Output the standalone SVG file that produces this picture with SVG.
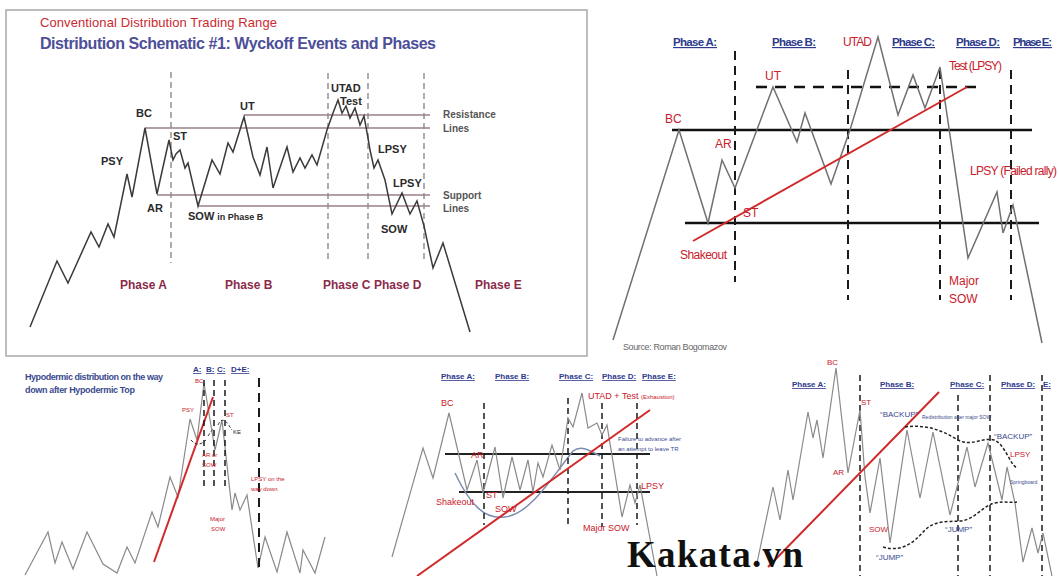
<svg xmlns="http://www.w3.org/2000/svg" width="1059" height="576" viewBox="0 0 1059 576">
<style>
text{font-family:"Liberation Sans",Arial,sans-serif}
.price1{fill:none;stroke:#3a3a3a;stroke-width:1.5;stroke-linejoin:miter}
.price{fill:none;stroke:#707070;stroke-width:1.5;stroke-linejoin:miter}
.priceL{fill:none;stroke:#8a8a8a;stroke-width:1.2;stroke-linejoin:miter}
.hl1{stroke:#9b7f88;stroke-width:1.6}
.vd1{stroke:#8a8a8a;stroke-width:1.4;stroke-dasharray:6 4}
.vd{stroke:#1a1a1a;stroke-width:2;stroke-dasharray:9 6}
.vds{stroke:#1a1a1a;stroke-width:1.5;stroke-dasharray:6 4}
.blk{stroke:#111;stroke-width:2.6}
.blkS{stroke:#222;stroke-width:2}
.trend{stroke:#d02a2a;stroke-width:2;fill:none}
.ev{font-weight:bold;font-size:11px;fill:#2a2a2a}
.ph1{font-weight:bold;font-size:12px;fill:#8b2b4a}
.side{font-weight:bold;font-size:10px;fill:#555}
.r{fill:#c8202a}
.hdr{font-weight:bold;fill:#2d3a8c;text-decoration:underline}
.bl{fill:#3a4a90}
.brand{font-family:"Liberation Serif","Times New Roman",serif;font-weight:bold;font-size:37px;fill:#111}
</style>
<rect width="1059" height="576" fill="#fff"/>

<g id="panel-conventional">
<rect x="6" y="10" width="581" height="346" fill="#fff" stroke="#a8a8a8" stroke-width="1.5"/>
<text x="40" y="27" font-size="13" fill="#cc2a30" textLength="237">Conventional Distribution Trading Range</text>
<text x="40" y="49" font-size="16" font-weight="bold" fill="#4d4f98" textLength="396">Distribution Schematic #1: Wyckoff Events and Phases</text>
<line class="hl1" x1="244" y1="115" x2="430" y2="115"/>
<line class="hl1" x1="145" y1="128" x2="430" y2="128"/>
<line class="hl1" x1="157" y1="195" x2="430" y2="195"/>
<line class="hl1" x1="198" y1="206" x2="430" y2="206"/>
<line class="vd1" x1="171" y1="72" x2="171" y2="263"/>
<line class="vd1" x1="328" y1="73" x2="328" y2="263"/>
<line class="vd1" x1="368" y1="73" x2="368" y2="263"/>
<line class="vd1" x1="424" y1="73" x2="424" y2="263"/>
<polyline class="price1" points="30,327 57,261 68,283 91,232 99,247 108,224 114,237 127,174 132,197 145,128 157,194 169,140 173,160 176,154 180,150 185,168 188,163 198,206 212,160 220,174 228,143 233,152 244,117 253,157 260,175 267,147 273,188 287,147 293,172 300,158 305,168 312,155 317,165 327,130 333,113 338,100 342,113 346,106 350,118 355,108 360,125 364,116 368,138 370,150 374,168 378,160 385,180 392,214 402,193 410,214 417,201 424,226 433,268 443,243 470,332"/>
<text class="ev" x="136" y="117">BC</text>
<text class="ev" x="101" y="165">PSY</text>
<text class="ev" x="173" y="140">ST</text>
<text class="ev" x="147" y="212">AR</text>
<text class="ev" x="188" y="220">SOW <tspan font-size="9">in Phase B</tspan></text>
<text class="ev" x="240" y="110">UT</text>
<text class="ev" x="331" y="92">UTAD</text>
<text class="ev" x="340" y="105" font-size="10">Test</text>
<text class="ev" x="378" y="153">LPSY</text>
<text class="ev" x="393" y="187">LPSY</text>
<text class="ev" x="381" y="233">SOW</text>
<text class="side" x="443" y="118">Resistance</text>
<text class="side" x="443" y="132">Lines</text>
<text class="side" x="443" y="199">Support</text>
<text class="side" x="443" y="212">Lines</text>
<text class="ph1" x="120" y="289">Phase A</text>
<text class="ph1" x="225" y="289">Phase B</text>
<text class="ph1" x="323" y="289">Phase C</text>
<text class="ph1" x="374" y="289">Phase D</text>
<text class="ph1" x="475" y="289">Phase E</text>
</g>

<g id="panel-bogomazov">
<g font-size="11.5">
<text class="hdr" x="673" y="46" textLength="44">Phase A:</text>
<text class="hdr" x="772" y="46" textLength="44">Phase B:</text>
<text class="hdr" x="892" y="46" textLength="43">Phase C:</text>
<text class="hdr" x="956" y="46" textLength="44">Phase D:</text>
<text class="hdr" x="1013" y="46" textLength="39">Phase E:</text>
</g>
<line class="blk" x1="672" y1="130" x2="1032" y2="130"/>
<line class="blk" x1="685" y1="223" x2="1039" y2="223"/>
<line class="blk" x1="756" y1="87" x2="983" y2="87" stroke-dasharray="11 8"/>
<line class="vd" x1="735" y1="51" x2="735" y2="282"/>
<line class="vd" x1="848" y1="70" x2="848" y2="300"/>
<line class="vd" x1="940" y1="70" x2="940" y2="300"/>
<line class="vd" x1="1011" y1="70" x2="1011" y2="300"/>
<polyline class="price" points="613,340 679,130 708,223 722,160 735,188 773,87 797,142 805,113 831,184 850,130 878,37 898,115 913,75 925,108 940,67 968,258 997,192 1003,233 1013,205 1042,343"/>
<line class="trend" x1="693" y1="241" x2="967" y2="87"/>
<g font-size="12" class="r">
<text x="843" y="46" textLength="29">UTAD</text>
<text x="665" y="123">BC</text>
<text x="715" y="148">AR</text>
<text x="765" y="80">UT</text>
<text x="743" y="217">ST</text>
<text x="680" y="259" textLength="47">Shakeout</text>
<text x="949" y="70" textLength="53">Test (LPSY)</text>
<text x="970" y="175" textLength="87">LPSY (Failed rally)</text>
<text x="949" y="285">Major</text>
<text x="949" y="303">SOW</text>
</g>
<text x="623" y="350" font-size="9" fill="#666" textLength="104">Source: Roman Bogomazov</text>
</g>

<g id="panel-hypodermic">
<text x="25" y="380" font-size="9" font-weight="bold" class="bl" textLength="138">Hypodermic distribution on the way</text>
<text x="25" y="393" font-size="9" font-weight="bold" class="bl" textLength="110">down after Hypodermic Top</text>
<g font-size="8">
<text class="hdr" x="193" y="372">A:</text>
<text class="hdr" x="206" y="372">B:</text>
<text class="hdr" x="217" y="372">C:</text>
<text class="hdr" x="231" y="372">D+E:</text>
</g>
<polyline class="priceL" points="25,575 48,532 55,563 62,542 73,569 87,532 103,564 117,573 127,547 135,563 152,512 158,527 170,477 178,497 190,419 197,440 204,383 215,450 222,420 232,510 235,493 240,510 247,495 258,568 265,537 277,572 287,532 300,573 303,550 315,573 325,537"/>
<line class="trend" x1="154" y1="562" x2="213" y2="397"/>
<line class="vds" x1="204" y1="380" x2="204" y2="488"/>
<line class="vds" x1="214" y1="380" x2="214" y2="488"/>
<line class="vds" x1="225" y1="380" x2="225" y2="488"/>
<line class="vd" x1="259" y1="378" x2="259" y2="570"/>
<path d="M191,440 Q198,448 206,440 M208,436 Q212,430 214,428 M218,425 Q222,416 228,424 L232,430" fill="none" stroke="#333" stroke-width="1" stroke-dasharray="3 2"/>
<g font-size="6" class="r">
<text x="195" y="383">BC</text>
<text x="182" y="412">PSY</text>
<text x="226" y="417">ST</text>
<text x="202" y="457">AR or</text>
<text x="202" y="467">SOW</text>
<text x="251" y="481">LPSY on the</text>
<text x="251" y="491">way down</text>
<text x="210" y="521">Major</text>
<text x="211" y="531">SOW</text>
</g>
<text x="233" y="434" font-size="6" fill="#222">KE</text>
</g>

<g id="panel-exhaustion">
<g font-size="8">
<text class="hdr" x="441" y="379">Phase A:</text>
<text class="hdr" x="495" y="379">Phase B:</text>
<text class="hdr" x="559" y="379">Phase C:</text>
<text class="hdr" x="602" y="379">Phase D:</text>
<text class="hdr" x="642" y="379">Phase E:</text>
</g>
<line class="blkS" x1="445" y1="454" x2="650" y2="454"/>
<line class="blkS" x1="459" y1="492" x2="650" y2="492"/>
<path d="M455,473 C470,505 485,520 505,517 C530,514 550,480 573,451 C582,444 592,452 600,456" fill="none" stroke="#7d8cb0" stroke-width="1.5"/>
<line class="vds" x1="484" y1="403" x2="484" y2="525"/>
<line class="vds" x1="568" y1="398" x2="568" y2="527"/>
<line class="vds" x1="602" y1="403" x2="602" y2="527"/>
<line class="vds" x1="637" y1="403" x2="637" y2="525"/>
<polyline class="priceL" points="392,557 423,448 433,478 449,413 467,490 477,460 483,493 495,447 503,498 512,457 520,490 528,460 533,492 538,463 543,477 552,445 560,470 568,418 573,427 582,393 588,428 597,423 602,435 607,425 622,517 630,485 635,503 640,485 657,576"/>
<line class="trend" x1="417" y1="576" x2="650" y2="410"/>
<g font-size="9" class="r">
<text x="441" y="406">BC</text>
<text x="471" y="458">AR</text>
<text x="436" y="505">Shakeout</text>
<text x="486" y="498">ST</text>
<text x="495" y="512">SOW</text>
<text x="588" y="399">UTAD + Test <tspan font-size="6">(Exhaustion)</tspan></text>
<text x="641" y="489">LPSY</text>
<text x="583" y="531">Major SOW</text>
</g>
<text x="618" y="441" font-size="6" class="bl">Failure to advance after</text>
<text x="618" y="451" font-size="6" class="bl">an attempt to leave TR</text>
</g>

<g id="panel-redistribution">
<g font-size="8">
<text class="hdr" x="792" y="387">Phase A:</text>
<text class="hdr" x="880" y="387">Phase B:</text>
<text class="hdr" x="950" y="387">Phase C:</text>
<text class="hdr" x="1001" y="387">Phase D:</text>
<text class="hdr" x="1043" y="387">E:</text>
</g>
<line class="vds" x1="860" y1="375" x2="860" y2="576"/>
<line class="vds" x1="958" y1="395" x2="958" y2="576" stroke-dasharray="4 3"/>
<line class="vds" x1="990" y1="375" x2="990" y2="576"/>
<line class="vds" x1="1042" y1="375" x2="1042" y2="576"/>
<polyline class="priceL" points="757,563 773,487 780,520 788,470 793,500 808,412 813,438 817,420 823,458 836,368 848,473 860,410 865,477 870,513 880,458 890,543 907,430 920,498 933,432 950,515 967,447 975,487 988,443 1002,500 1007,467 1015,503 1023,562 1032,528 1038,553 1043,533 1052,576"/>
<line class="trend" x1="768" y1="567" x2="939" y2="392"/>
<path d="M905,427 C925,424 942,430 958,440 C972,447 982,437 994,440 C1005,444 1010,465 1017,468" fill="none" stroke="#222" stroke-width="1.5" stroke-dasharray="3 2"/>
<path d="M883,547 C900,552 912,545 925,530 C935,520 948,522 960,521 C975,520 983,505 995,503 C1005,501 1010,503 1017,502" fill="none" stroke="#222" stroke-width="1.5" stroke-dasharray="3 2"/>
<g font-size="8" class="r">
<text x="827" y="365">BC</text>
<text x="861" y="405">ST</text>
<text x="833" y="475">AR</text>
<text x="869" y="532">SOW</text>
<text x="1010" y="457">LPSY</text>
</g>
<g font-size="8" class="bl">
<text x="880" y="417">“BACKUP”</text>
<text x="922" y="419" font-size="5">Redistribution after major SOW</text>
<text x="994" y="439">“BACKUP”</text>
<text x="1010" y="484" font-size="5">Springboard</text>
<text x="945" y="532">“JUMP”</text>
<text x="876" y="560">“JUMP”</text>
</g>
</g>

<text class="brand" x="627" y="567" textLength="176">Kakata.vn</text>
</svg>
